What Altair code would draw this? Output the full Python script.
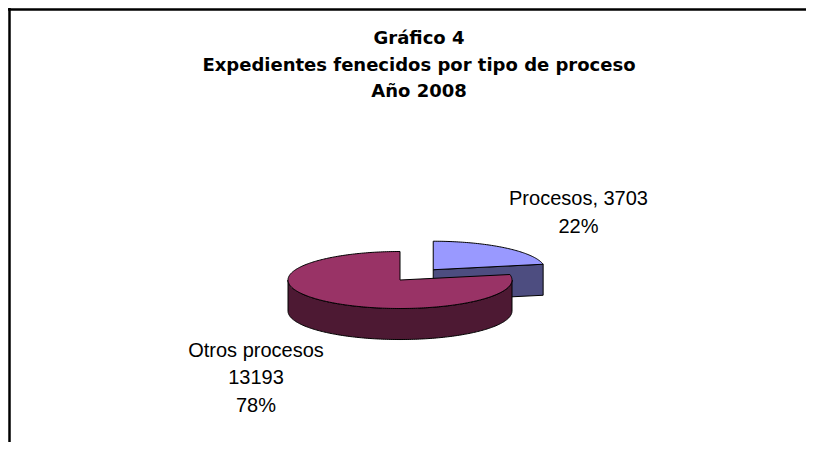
import altair as alt
import numpy as np
import pandas as pd

# ---- data ----
categories = ["Procesos", "Otros procesos"]
values = [3703, 13193]
top_colors = ["#9999FF", "#993366"]
side_colors = ["#4D4D80", "#4D1933"]
title_lines = ["Gráfico 4", "Expedientes fenecidos por tipo de proceso", "Año 2008"]

# ---- styling of the pseudo-3D pie ----
RY = 0.2545      # vertical squash of the ellipse (rx = 1)
DEPTH = 0.277    # thickness of the pie
EXPLODE = [0.467, 0.0]

total = sum(values)
fracs = [v / total for v in values]
starts = np.cumsum([0.0] + fracs[:-1]) * 360.0
ends = starts + np.array(fracs) * 360.0
pcts = [f"{round(f * 100):.0f}%" for f in fracs]


def rim(theta, cx, cy, dz=0.0):
    t = np.radians(theta)
    return [float(cx + np.sin(t)), float(cy - RY * np.cos(t) + dz)]


def arc(a, b, cx, cy, dz=0.0):
    n = max(2, int(abs(b - a)) + 1)
    return [rim(t, cx, cy, dz) for t in np.linspace(a, b, n)]


def feature(ring, face):
    ring = ring + [ring[0]]
    return {"type": "Feature", "properties": {"face": face},
            "geometry": {"type": "Polygon", "coordinates": [ring]}}


walls, curved, tops = [], [], []
for i, name in enumerate(categories):
    s, e = float(starts[i]), float(ends[i])
    mid = np.radians((s + e) / 2)
    cx = float(EXPLODE[i] * np.sin(mid))
    cy = float(-EXPLODE[i] * RY * np.cos(mid))
    apex = [cx, cy]
    apex_d = [cx, cy + DEPTH]
    if np.sin(np.radians(e)) > 1e-6:
        walls.append(feature([apex, rim(e, cx, cy), rim(e, cx, cy, DEPTH), apex_d], name + "|side"))
    if np.sin(np.radians(s)) < -1e-6:
        walls.append(feature([apex, rim(s, cx, cy), rim(s, cx, cy, DEPTH), apex_d], name + "|side"))
    a, b = max(s, 90.0), min(e, 270.0)
    if b > a:
        curved.append(feature(arc(a, b, cx, cy) + arc(b, a, cx, cy, DEPTH), name + "|side"))
    tops.append(feature([apex] + arc(s, e, cx, cy), name + "|top"))

features = walls + curved + tops
face_domain = [c + "|top" for c in categories] + [c + "|side" for c in categories]
face_range = top_colors + side_colors

W, H = 798, 434

pie = alt.Chart(alt.Data(values=features)).mark_geoshape(
    stroke="black", strokeWidth=1, strokeJoin="round"
).encode(
    color=alt.Color("properties.face:N",
                    scale=alt.Scale(domain=face_domain, range=face_range),
                    legend=None)
).project(type="identity", scale=112, translate=[392, 272])

frame = alt.Chart(alt.Data(values=[{}]))
top_line = frame.mark_rule(color="black", strokeWidth=2.5).encode(
    x=alt.value(0), x2=alt.value(W + 8), y=alt.value(1.5))
left_line = frame.mark_rule(color="black", strokeWidth=2.5).encode(
    x=alt.value(1.5), y=alt.value(0), y2=alt.value(H + 10))

title = alt.Chart(alt.Data(values=[{"t": title_lines}])).mark_text(
    font="DejaVu Sans", fontWeight="bold", fontSize=18, align="center",
    baseline="alphabetic", lineHeight=26.5, color="black"
).encode(text="t:N", x=alt.value(411), y=alt.value(36))

lab_p = alt.Chart(alt.Data(values=[{"t": [f"{categories[0]}, {values[0]}", pcts[0]]}])).mark_text(
    font="Liberation Sans", fontSize=20, align="center", baseline="alphabetic",
    lineHeight=28, color="black"
).encode(text="t:N", x=alt.value(570.5), y=alt.value(197))

lab_o = alt.Chart(alt.Data(values=[{"t": [categories[1], str(values[1]), pcts[1]]}])).mark_text(
    font="Liberation Sans", fontSize=20, align="center", baseline="alphabetic",
    lineHeight=27.5, color="black"
).encode(text="t:N", x=alt.value(248), y=alt.value(348.7))

chart = alt.layer(top_line, left_line, pie, title, lab_p, lab_o).properties(
    width=W, height=H, autosize="none", padding=0, background="white"
).configure_view(stroke=None)

chart.save("out.html", embed_options={"renderer": "svg", "actions": False})
